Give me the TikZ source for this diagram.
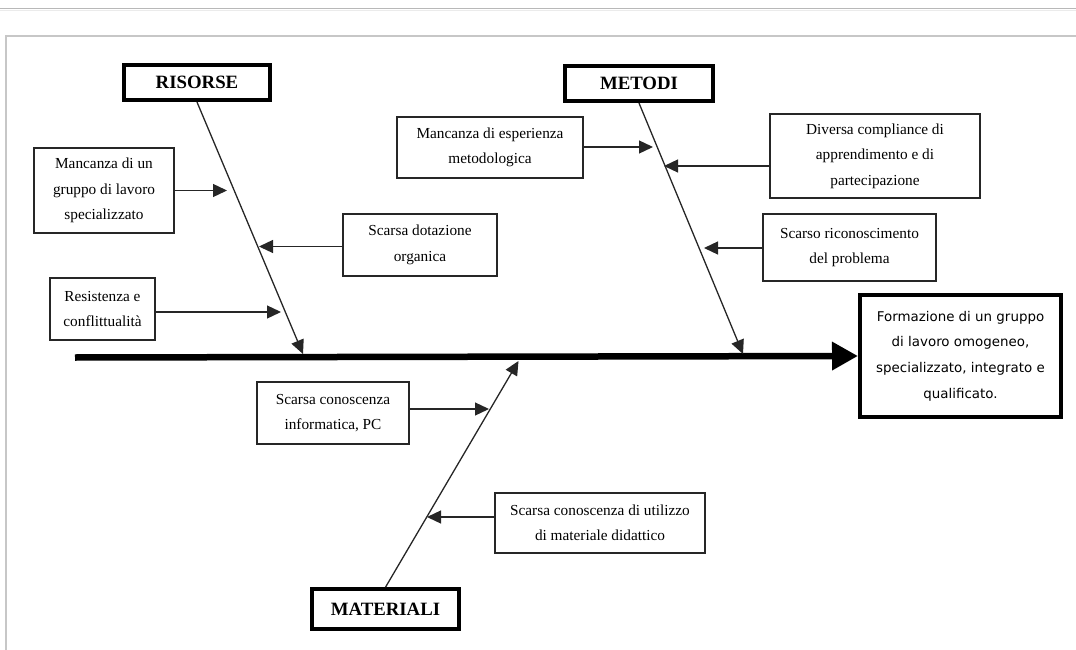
\documentclass[tikz,border=0pt]{standalone}
\usepackage{fontspec}
\setmainfont{Liberation Serif}
\newfontfamily\dvsans{DejaVu Sans}
\usetikzlibrary{arrows.meta}
\tikzset{
  cause/.style={draw=black!85, line width=1.4pt, minimum width=#1, inner sep=0pt, align=center,
    font=\fontsize{15.3}{25.5}\selectfont},
  cat/.style={draw=black, line width=3.6pt, inner sep=0pt, align=center,
    font=\fontsize{18.8}{22}\selectfont\bfseries},
  arr/.style={draw=black!85, line width=1.3pt, -{Triangle[length=14pt,width=13pt]}},
  spine/.style={draw=black, line width=6.5pt, -{Triangle[length=26pt,width=27pt]}},
  frame/.style={draw=black!22, line width=1.4pt}
}
\begin{document}
\begin{tikzpicture}[x=1pt,y=-1pt]
\useasboundingbox (0,0) rectangle (1076,650);
% page frame
\draw[draw=black!28, line width=1.6pt] (0,8.5) -- (1076,8.5);
\draw[draw=black!8, line width=1pt] (0,10.5) -- (1076,10.5);
\draw[frame] (6,650) -- (6,36) -- (1076,36);

% category boxes
\node[cat, minimum width=146.5pt, minimum height=35.5pt] (ris) at (197,82.5) {RISORSE};
\node[cat, minimum width=148.5pt, minimum height=35.5pt] (met) at (639,83.5) {METODI};
\node[cat, minimum width=147.5pt, minimum height=40pt] (mat) at (385.5,609) {MATERIALI};

% effect box
\node[draw=black, line width=4pt, minimum width=201pt, minimum height=122pt, inner sep=0pt,
  align=center, font=\dvsans\fontsize{13.4}{25.7}\selectfont] (eff) at (960.5,356)
  {Formazione di un gruppo\\di lavoro omogeneo,\\specializzato, integrato e\\qualificato.};

% spine
\coordinate (sp0) at (75,357.5);
\draw[spine] (sp0) -- (eff.west);

% bones
\coordinate (risT) at (303,354);
\coordinate (metT) at (743,354);
\coordinate (matT) at (518.5,361);
\draw[arr] (ris.south) -- (risT);
\draw[arr] (met.south) -- (metT);
\draw[arr] (mat.north) -- (matT);

% cause boxes
\node[cause=140pt, minimum height=85pt] (mg) at (104,190.5) {Mancanza di un\\gruppo di lavoro\\specializzato};
\node[cause=154pt, minimum height=62pt] (sd) at (420,245) {Scarsa dotazione\\organica};
\node[cause=105pt, minimum height=62pt] (rc) at (102.5,309) {Resistenza e\\conflittualità};
\node[cause=186pt, minimum height=61pt] (me) at (490,147.5) {Mancanza di esperienza\\metodologica};
\node[cause=210pt, minimum height=84pt] (dc) at (875,156) {Diversa compliance di\\apprendimento e di\\partecipazione};
\node[cause=173pt, minimum height=67pt] (sr) at (849.5,247.5) {Scarso riconoscimento\\del problema};
\node[cause=152pt, minimum height=62pt] (si) at (333,413) {Scarsa conoscenza\\informatica, PC};
\node[cause=210pt, minimum height=60pt] (su) at (600,523) {Scarsa conoscenza di utilizzo\\di materiale didattico};

% arrow tips on bones
\coordinate (mgT) at (227,190.5);
\coordinate (sdT) at (259,246.5);
\coordinate (rcT) at (281,312);
\coordinate (meT) at (653,147);
\coordinate (dcT) at (664,166);
\coordinate (srT) at (704,248);
\coordinate (siT) at (489,409);
\coordinate (suT) at (427,517);

\draw[arr] (mg.east |- mgT) -- (mgT);
\draw[arr] (sd.west |- sdT) -- (sdT);
\draw[arr] (rc.east |- rcT) -- (rcT);
\draw[arr] (me.east |- meT) -- (meT);
\draw[arr] (dc.west |- dcT) -- (dcT);
\draw[arr] (sr.west |- srT) -- (srT);
\draw[arr] (si.east |- siT) -- (siT);
\draw[arr] (su.west |- suT) -- (suT);
\end{tikzpicture}
\end{document}
